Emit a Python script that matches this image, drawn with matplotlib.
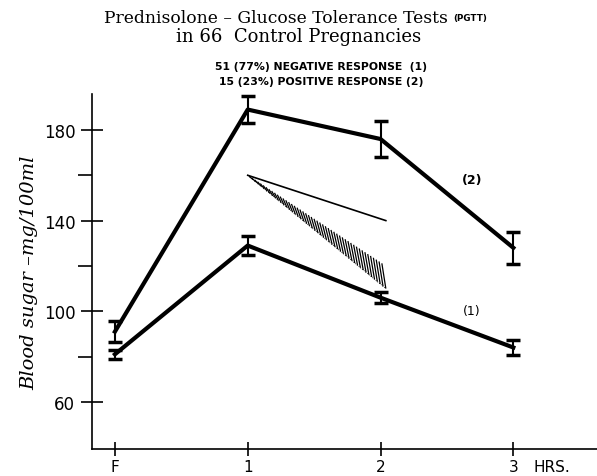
import numpy as np
import matplotlib.pyplot as plt
from matplotlib.collections import LineCollection

# data
hrs = [0, 1, 2, 3]
hrs_labels = ["F", "1", "2", "3"]
neg_mean = [81, 129, 106, 84]      # (1) negative response
neg_err = [2, 4, 2.5, 3.5]
pos_mean = [91, 189, 176, 128]     # (2) positive response
pos_err = [4.5, 6, 8, 7]
thin_x = [1.0, 2.04]
thin_y = [160, 140]
wedge_x = [1.0, 2.04]
wedge_top = [160, 120]
wedge_bot = [160, 110]

fig = plt.figure(figsize=(5.97, 4.77), dpi=100)
ax = fig.add_axes([0.154, 0.057, 0.846, 0.744])

ax.errorbar(hrs, pos_mean, yerr=pos_err, color="black", lw=3, elinewidth=1.5,
            capsize=5, capthick=2.5)
ax.errorbar(hrs, neg_mean, yerr=neg_err, color="black", lw=3, elinewidth=1.5,
            capsize=5, capthick=2.5)

ax.plot(thin_x, thin_y, color="black", lw=1.2)

# hatched wedge: short slanted strokes between its two edges
d = 0.03
xs = np.linspace(wedge_x[0] + 0.01, wedge_x[1] - d, 48)
y_up = np.interp(xs, wedge_x, wedge_top)
y_lo = np.interp(xs + d, wedge_x, wedge_bot)
segs = [[(x, a), (x + d, b)] for x, a, b in zip(xs, y_up, y_lo)]
ax.add_collection(LineCollection(segs, colors="black", linewidths=0.9))
ax.plot(wedge_x, wedge_bot, color="black", lw=0.6, ls=":")

ax.text(2.69, 158, "(2)", fontsize=9, fontweight="bold", ha="center", va="center")
ax.text(2.69, 100.5, "(1)", fontsize=9, ha="center", va="center")

ax.set_xlim(-0.173, 3.63)
ax.set_ylim(39.3, 195.9)
for s in ["top", "right"]:
    ax.spines[s].set_visible(False)
ax.spines["left"].set_linewidth(1.2)
ax.spines["bottom"].set_linewidth(1.2)

ax.set_yticks([60, 100, 140, 180])
ax.set_yticks([80, 120, 160], minor=True)
ax.tick_params(axis="y", which="major", direction="inout", length=16, width=1.2,
               labelsize=12, pad=4)
ax.tick_params(axis="y", which="minor", direction="out", length=10, width=1.2)
ax.set_xticks(hrs)
ax.set_xticklabels(hrs_labels)
ax.tick_params(axis="x", direction="inout", length=10, width=1.2, labelsize=11, pad=2)

ax.set_ylabel("Blood sugar \u2013mg/100ml", fontsize=14, style="italic",
              family="DejaVu Serif", labelpad=4)
fig.text(0.893, 0.019, "HRS.", fontsize=11, ha="left", va="center")

fig.text(0.463, 0.962, "Prednisolone \u2013 Glucose Tolerance Tests", fontsize=12.3,
         ha="center", va="center", family="DejaVu Serif")
fig.text(0.76, 0.962, "(PGTT)", fontsize=6.3, ha="left", va="center", fontweight="bold")
fig.text(0.5, 0.923, "in 66  Control Pregnancies", fontsize=13,
         ha="center", va="center", family="DejaVu Serif")
fig.text(0.538, 0.86, "51 (77%) NEGATIVE RESPONSE  (1)", fontsize=7.8,
         ha="center", va="center", fontweight="bold")
fig.text(0.538, 0.828, "15 (23%) POSITIVE RESPONSE (2)", fontsize=7.8,
         ha="center", va="center", fontweight="bold")

fig.savefig("out.png", dpi=100)
